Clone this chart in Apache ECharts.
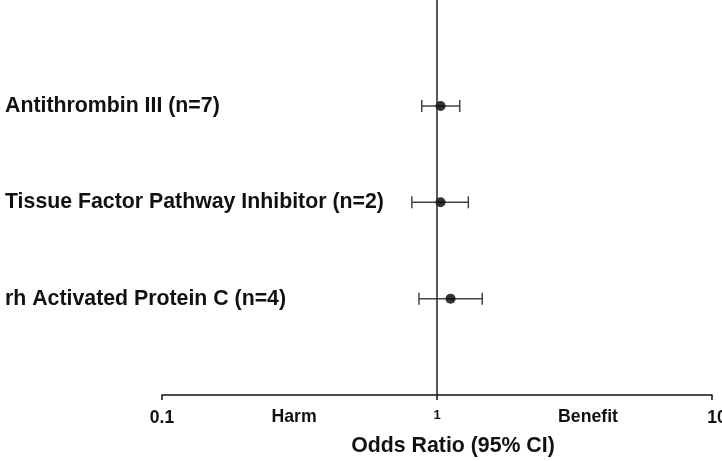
<!DOCTYPE html>
<html><head><meta charset="utf-8">
<script src="https://cdn.jsdelivr.net/npm/echarts@6/dist/echarts.min.js"></script>
<style>html,body{margin:0;padding:0;background:#fff}#c{width:722px;height:461px}</style>
</head><body><div id="c"></div>
<script>
var categories = ['Antithrombin III (n=7)', 'Tissue Factor Pathway Inhibitor (n=2)', 'rh Activated Protein C (n=4)'];
var rowPos = [3, 2, 1];
var oddsRatio = [1.03, 1.03, 1.12];
var ciLow = [0.88, 0.81, 0.86];
var ciHigh = [1.21, 1.30, 1.46];
var xTicks = [0.1, 1, 10];
var sideLabels = ['Harm', 'Benefit'];

var chart = echarts.init(document.getElementById('c'));
var font = 'Liberation Sans, Arial, sans-serif';
var errData = categories.map(function(c, i){ return [ciLow[i], ciHigh[i], rowPos[i]]; });
var ptData = categories.map(function(c, i){ return [oddsRatio[i], rowPos[i]]; });
var labelMap = {};
categories.forEach(function(c, i){ labelMap[rowPos[i]] = c; });

chart.setOption({
  animation: false,
  backgroundColor: '#fff',
  grid: { left: 162, right: 10, top: 0, bottom: 66, containLabel: false, outerBoundsMode: 'none' },
  xAxis: {
    type: 'log', logBase: 10, min: 0.1, max: 10,
    axisLine: { show: true, lineStyle: { color: '#111', width: 1.5 } },
    axisTick: { show: true, inside: false, length: 5, lineStyle: { color: '#111', width: 1.5 } },
    splitLine: { show: false },
    minorTick: { show: false },
    axisLabel: {
      margin: 14, color: '#111', fontFamily: font, fontWeight: 'bold', fontSize: 17.5,
      hideOverlap: false,
      formatter: function(v){
        var r = Math.round(v * 10) / 10;
        if (r === 1) return '{s|1}';
        if (r === 10) return '{e|10}';
        return String(r);
      },
      rich: {
        s: { fontSize: 13, fontWeight: 'bold', fontFamily: font, color: '#111', padding: [0, 0, 3, 0] },
        e: { fontSize: 17.5, fontWeight: 'bold', fontFamily: font, color: '#111', padding: [0, 0, 0, 10] }
      }
    },
    name: 'Odds Ratio (95% CI)', nameLocation: 'middle', nameGap: 41,
    nameTextStyle: { fontFamily: font, fontWeight: 'bold', fontSize: 21.3, color: '#111', padding: [0, 0, 0, 32] }
  },
  yAxis: {
    type: 'value', min: 0, max: 4.1, interval: 1,
    axisLine: { show: false }, axisTick: { show: false }, splitLine: { show: false },
    axisLabel: {
      showMaxLabel: false, align: 'left', margin: 157,
      color: '#111', fontFamily: font, fontWeight: 'bold', fontSize: 21.3,
      formatter: function(v){ return labelMap[v] || ''; }
    }
  },
  graphic: [
    { type: 'text', x: 294, y: 417, style: { text: sideLabels[0], fill: '#111', font: 'bold 17.7px ' + font, textAlign: 'center', textVerticalAlign: 'middle' } },
    { type: 'text', x: 588, y: 417, style: { text: sideLabels[1], fill: '#111', font: 'bold 17.7px ' + font, textAlign: 'center', textVerticalAlign: 'middle' } }
  ],
  series: [
    {
      type: 'custom',
      data: errData,
      renderItem: function(params, api){
        var y = api.value(2);
        var p1 = api.coord([api.value(0), y]);
        var p2 = api.coord([api.value(1), y]);
        var h = 6;
        var st = { stroke: '#444', lineWidth: 1.5 };
        return { type: 'group', children: [
          { type: 'line', shape: { x1: p1[0], y1: p1[1], x2: p2[0], y2: p2[1] }, style: st },
          { type: 'line', shape: { x1: p1[0], y1: p1[1] - h, x2: p1[0], y2: p1[1] + h }, style: st },
          { type: 'line', shape: { x1: p2[0], y1: p2[1] - h, x2: p2[0], y2: p2[1] + h }, style: st }
        ]};
      },
      encode: { x: [0, 1], y: 2 },
      z: 3
    },
    {
      type: 'scatter',
      data: ptData,
      symbol: 'circle', symbolSize: 10,
      itemStyle: { color: '#000' },
      z: 4,
      markLine: {
        silent: true, symbol: 'none', label: { show: false },
        lineStyle: { color: '#222', width: 1.5, type: 'solid' },
        data: [{ xAxis: 1 }]
      }
    }
  ]
});
</script></body></html>
